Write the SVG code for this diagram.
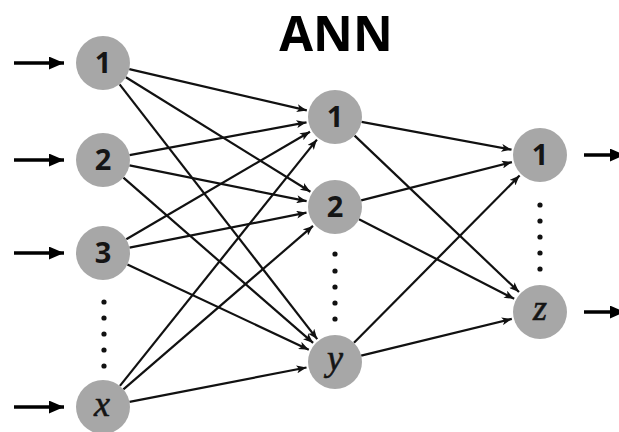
<svg xmlns="http://www.w3.org/2000/svg" width="619" height="432" viewBox="0 0 619 432">
<defs>
<style>
.node circle{fill:#a7a7a7;}
.num{font-family:"Open Sans","Liberation Sans",sans-serif;font-weight:bold;font-size:29px;fill:#151515;text-anchor:middle;}
.var{font-family:"Liberation Serif","DejaVu Serif",serif;font-style:italic;font-size:36px;fill:#151515;stroke:#151515;stroke-width:0.6;text-anchor:middle;}
.edge{stroke:#111;stroke-width:2.2;fill:none;marker-end:url(#ah);}
.io{stroke:#000;stroke-width:3.5;fill:none;marker-end:url(#big);}
.dot{fill:#111;}
</style>
<marker id="ah" viewBox="0 0 10 8" refX="10" refY="4" markerWidth="11" markerHeight="8" markerUnits="userSpaceOnUse" orient="auto">
<path d="M0,0 L10,4 L0,8 L2.5,4 Z" fill="#111"/>
</marker>
<marker id="big" viewBox="0 0 14 12" refX="14" refY="6" markerWidth="15" markerHeight="13" markerUnits="userSpaceOnUse" orient="auto">
<path d="M0,0 L14,6 L0,12 Z" fill="#000"/>
</marker>
</defs>
<rect width="619" height="432" fill="#fff"/>
<text x="336" y="51" font-family="'Open Sans','Liberation Sans',sans-serif" font-weight="bold" font-size="49" text-anchor="middle" fill="#000">ANN</text>

<g id="connectors">
<line class="io" x1="14" y1="63" x2="64" y2="63"/>
<line class="io" x1="14" y1="160" x2="64" y2="160"/>
<line class="io" x1="14" y1="253" x2="64" y2="253"/>
<line class="io" x1="14" y1="407" x2="64" y2="407"/>
<line class="io" x1="584" y1="155" x2="625" y2="155"/>
<line class="io" x1="584" y1="312" x2="625" y2="312"/>

<line class="edge" x1="129.3" y1="69.1" x2="306.8" y2="110.4"/>
<line class="edge" x1="125.9" y1="77.2" x2="310.4" y2="191.7"/>
<line class="edge" x1="119.6" y1="84.3" x2="317.2" y2="339.1"/>
<line class="edge" x1="129.5" y1="155.1" x2="306.5" y2="122.3"/>
<line class="edge" x1="129.5" y1="165.4" x2="306.6" y2="201.2"/>
<line class="edge" x1="123.4" y1="177.7" x2="313.1" y2="342.9"/>
<line class="edge" x1="126.3" y1="239.3" x2="310.0" y2="131.7"/>
<line class="edge" x1="129.5" y1="247.7" x2="306.5" y2="212.7"/>
<line class="edge" x1="127.4" y1="264.5" x2="308.8" y2="349.7"/>
<line class="edge" x1="119.9" y1="385.9" x2="316.9" y2="139.6"/>
<line class="edge" x1="123.4" y1="389.4" x2="313.0" y2="225.9"/>
<line class="edge" x1="129.5" y1="401.9" x2="306.5" y2="367.5"/>

<line class="edge" x1="361.5" y1="121.9" x2="511.5" y2="149.7"/>
<line class="edge" x1="354.6" y1="135.6" x2="519.0" y2="292.0"/>
<line class="edge" x1="361.2" y1="200.4" x2="511.9" y2="162.1"/>
<line class="edge" x1="359.0" y1="219.3" x2="514.2" y2="298.8"/>
<line class="edge" x1="354.0" y1="342.8" x2="519.6" y2="175.6"/>
<line class="edge" x1="361.2" y1="355.6" x2="511.8" y2="318.9"/>
</g>

<g id="dots">
<circle class="dot" cx="104" cy="302" r="2.6"/>
<circle class="dot" cx="104" cy="318" r="2.6"/>
<circle class="dot" cx="104" cy="334" r="2.6"/>
<circle class="dot" cx="104" cy="350" r="2.6"/>
<circle class="dot" cx="104" cy="366" r="2.6"/>
<circle class="dot" cx="335" cy="254" r="2.6"/>
<circle class="dot" cx="335" cy="271" r="2.6"/>
<circle class="dot" cx="335" cy="287" r="2.6"/>
<circle class="dot" cx="335" cy="303" r="2.6"/>
<circle class="dot" cx="335" cy="319" r="2.6"/>
<circle class="dot" cx="540" cy="205" r="2.6"/>
<circle class="dot" cx="540" cy="221" r="2.6"/>
<circle class="dot" cx="540" cy="237" r="2.6"/>
<circle class="dot" cx="540" cy="253" r="2.6"/>
<circle class="dot" cx="540" cy="269" r="2.6"/>
</g>

<g id="in1" class="node"><circle cx="103" cy="63" r="27"/><text class="num" x="103" y="73">1</text></g>
<g id="in2" class="node"><circle cx="103" cy="160" r="27"/><text class="num" x="103" y="170">2</text></g>
<g id="in3" class="node"><circle cx="103" cy="253" r="27"/><text class="num" x="103" y="263">3</text></g>
<g id="inx" class="node"><circle cx="103" cy="407" r="27"/><text class="var" x="102" y="416">x</text></g>

<g id="h1" class="node"><circle cx="335" cy="117" r="27"/><text class="num" x="335" y="127">1</text></g>
<g id="h2" class="node"><circle cx="335" cy="207" r="27"/><text class="num" x="335" y="217">2</text></g>
<g id="hy" class="node"><circle cx="335" cy="362" r="27"/><text class="var" x="335" y="370">y</text></g>

<g id="o1" class="node"><circle cx="540" cy="155" r="27"/><text class="num" x="540" y="165">1</text></g>
<g id="oz" class="node"><circle cx="540" cy="312" r="27"/><text class="var" x="540" y="320">z</text></g>
</svg>
